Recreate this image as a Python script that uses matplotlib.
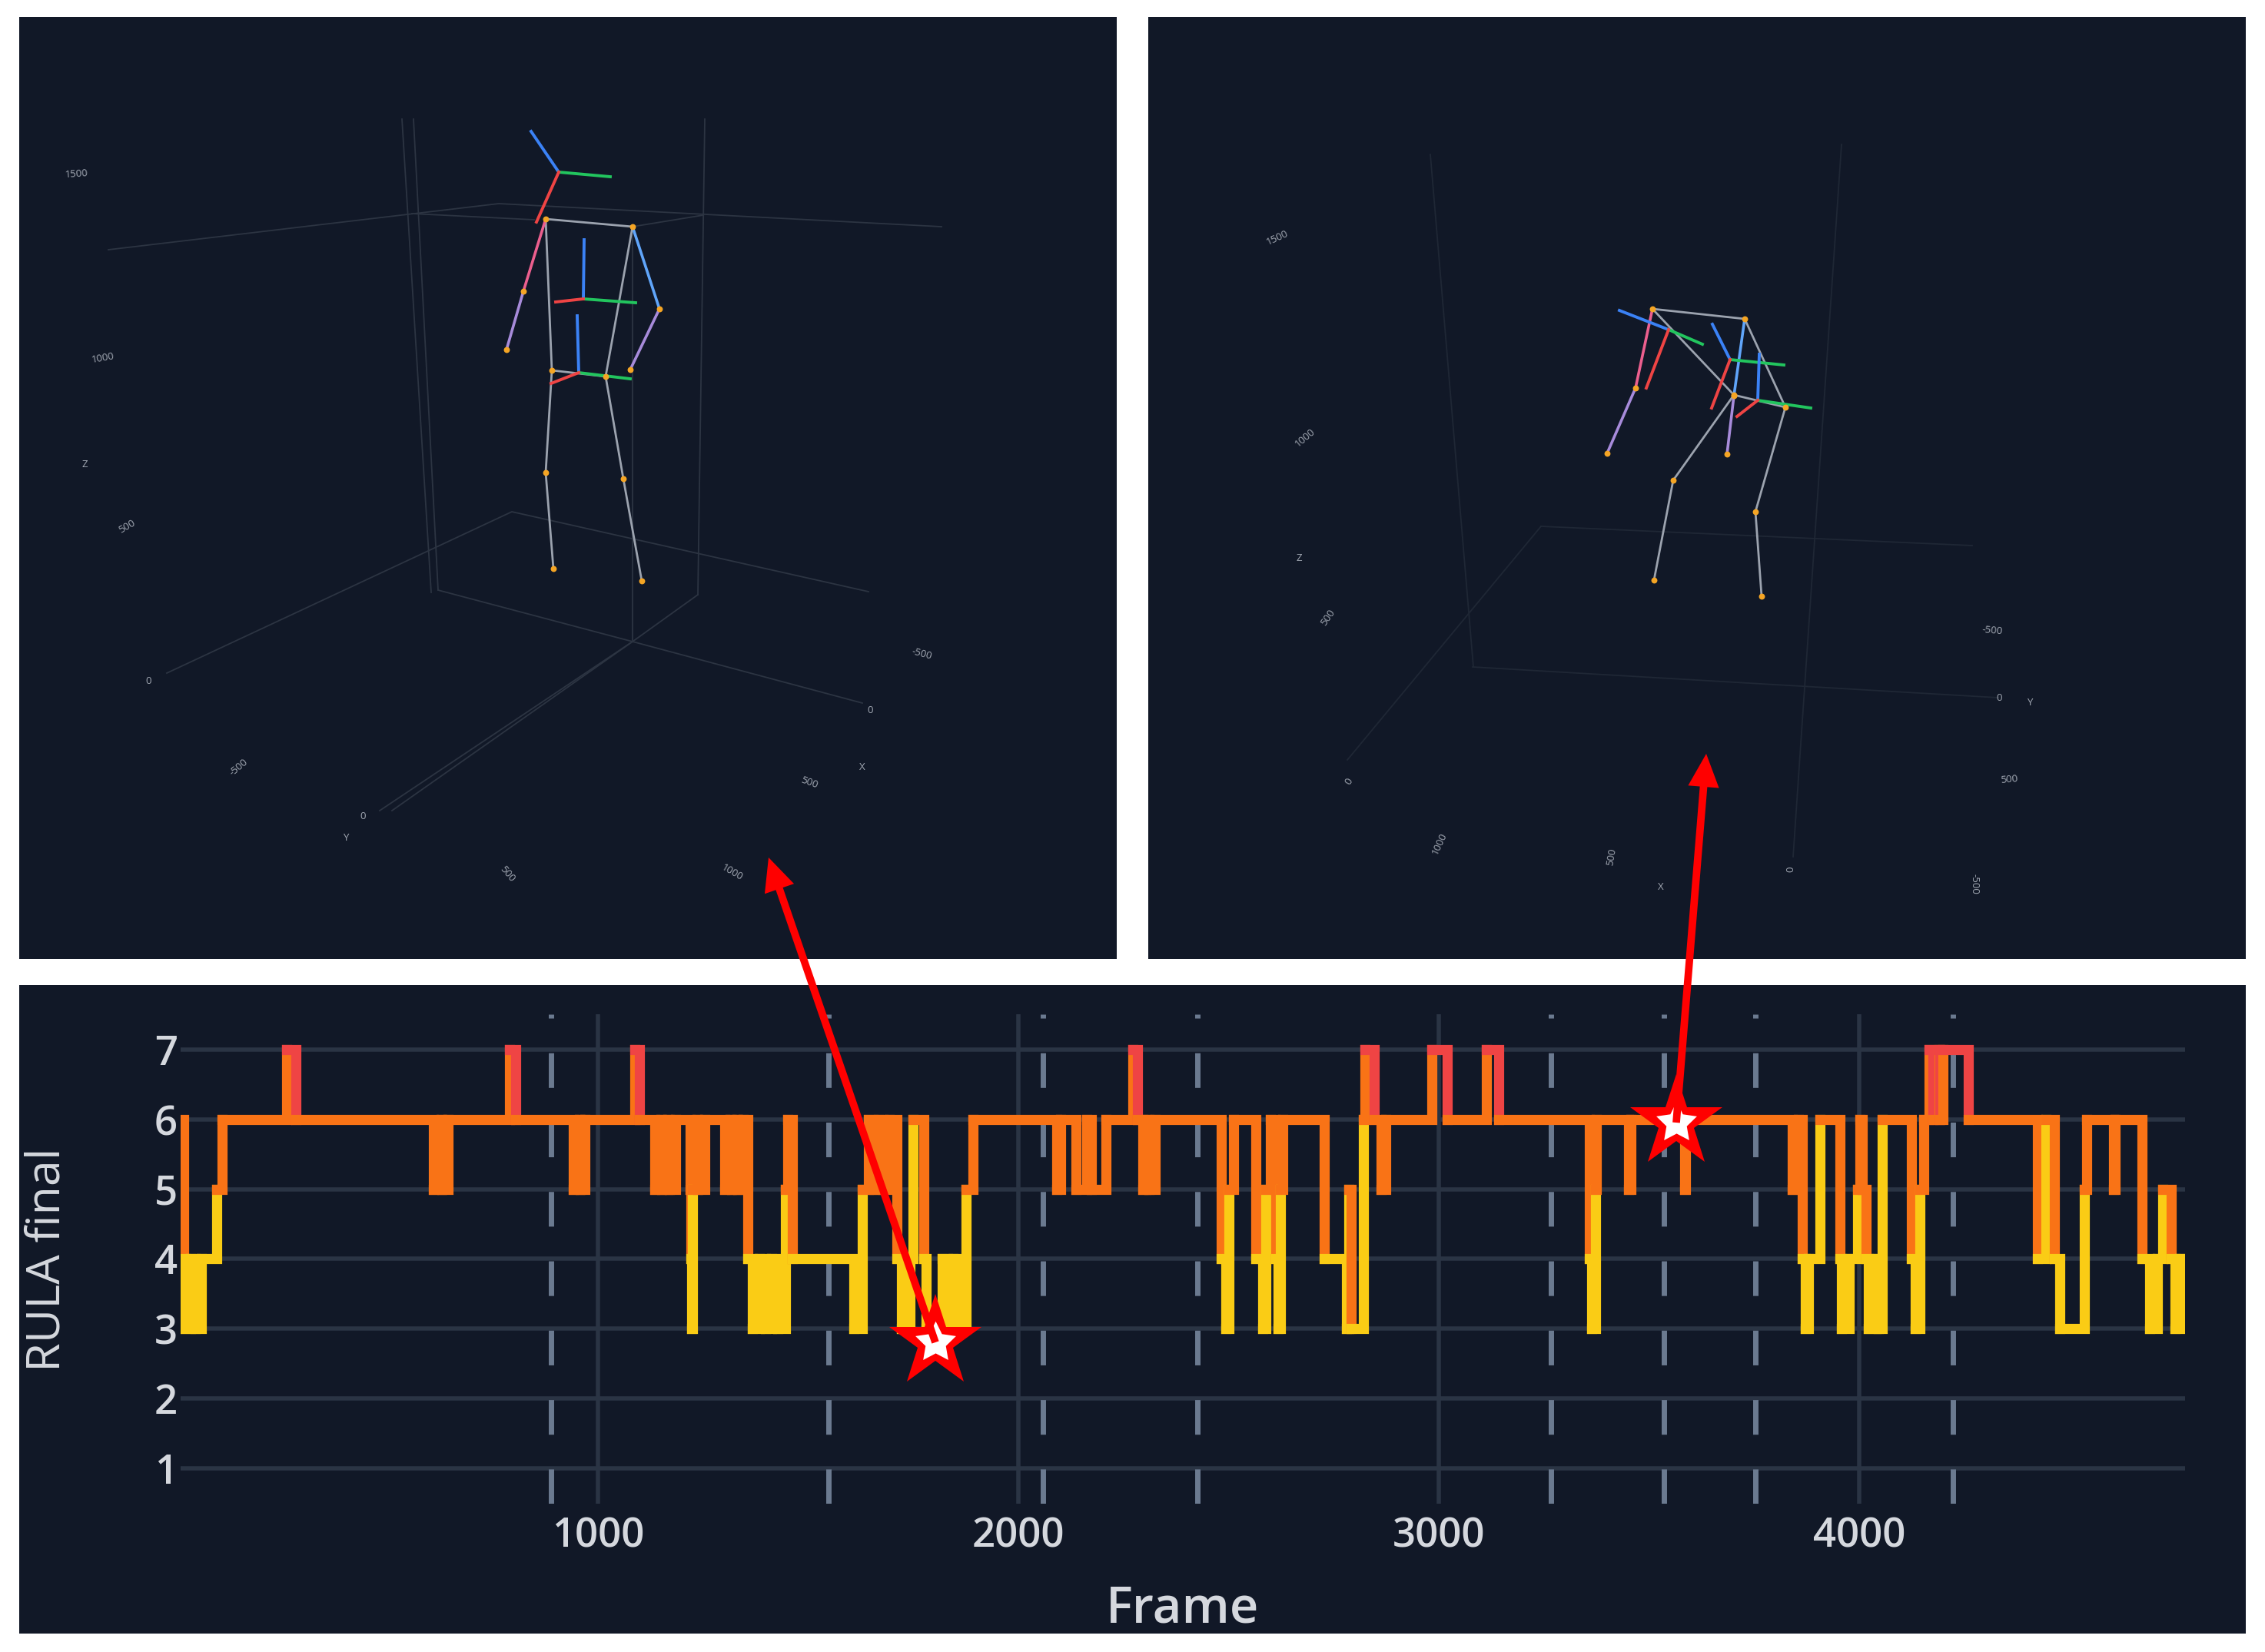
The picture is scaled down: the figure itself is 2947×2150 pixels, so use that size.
"""RULA final score over frames, with the two 3D poses it points at."""
import matplotlib
matplotlib.use('Agg')
import matplotlib.pyplot as plt
from matplotlib.patches import Rectangle
from matplotlib.path import Path

plt.rcParams['font.family'] = ['Open Sans', 'DejaVu Sans']

W, H = 2947, 2150
BG, GRID = '#111827', '#2a3444'
YELLOW, ORANGE, RED = '#facc15', '#f97316', '#ef4444'
BONE, JOINT = '#9ca3af', '#f5a524'
AX_B, AX_G, AX_R = '#3b82f6', '#22c55e', '#ef4444'
PINK, PURPLE, SKY = '#ec5f8e', '#a78bda', '#60a5fa'

# frames where the score changes, and the score from that frame on
FRAMES = [7, 15, 18, 30, 42, 56, 93, 106, 260, 282, 609, 627, 629, 644, 790, 804,
          942, 955, 958, 968, 1087, 1099, 1135, 1150, 1152, 1167, 1169, 1184,
          1219, 1221, 1222, 1225, 1236, 1238, 1253, 1301, 1315, 1317, 1330, 1332, 1345, 1356,
          1368, 1383, 1398, 1413, 1428, 1446, 1451, 1463, 1608, 1629, 1643, 1655, 1667, 1678,
          1693, 1710, 1721, 1742, 1750, 1774, 1780, 1818, 1832, 1845, 1859, 1876, 1892,
          2092, 2100, 2136, 2162, 2174, 2209, 2273, 2284, 2296, 2304, 2311, 2325,
          2483, 2494, 2500, 2512, 2564, 2582, 2588, 2599, 2611, 2613, 2617, 2623, 2628,
          2727, 2780, 2785, 2792, 2821, 2824, 2847, 2862, 2874, 2984, 3019, 3113, 3142,
          3358, 3363, 3372, 3375, 3451, 3457, 3585, 3586, 3841, 3855, 3865, 3872, 3880,
          3906, 3955, 3958, 3976, 3997, 4001, 4007, 4016, 4022, 4040, 4045, 4054,
          4125, 4133, 4145, 4154, 4166, 4176, 4190, 4192, 4200, 4259,
          4424, 4444, 4465, 4477, 4535, 4541, 4605, 4608, 4672, 4690, 4710, 4722,
          4742, 4751, 4763]
RULA = [6, 4, 3, 4, 3, 4, 5, 6, 7, 6, 5, 6, 5, 6, 7, 6,
        5, 6, 5, 6, 7, 6, 5, 6, 5, 6, 5, 6,
        5, 4, 3, 5, 6, 5, 6, 5, 6, 5, 6, 5, 6, 4,
        3, 4, 3, 4, 3, 5, 6, 4, 3, 5, 6, 5, 6, 5,
        6, 4, 3, 4, 6, 4, 3, 4, 3, 4, 3, 5, 6,
        5, 6, 5, 6, 5, 6, 7, 6, 5, 6, 5, 6,
        4, 3, 5, 6, 4, 3, 5, 6, 5, 4, 3, 5, 6,
        4, 3, 5, 3, 6, 7, 6, 5, 6, 7, 6, 7, 6,
        4, 3, 5, 6, 5, 6, 5, 6, 5, 6, 4, 3, 4,
        6, 4, 3, 4, 5, 6, 5, 4, 3, 4, 3, 6,
        4, 3, 5, 6, 7, 6, 7, 6, 7, 6,
        4, 6, 4, 3, 5, 6, 5, 6, 4, 3, 4, 5,
        4, 3, 4]
FRAME_END = 4775
DASHED_FRAMES = [888, 1548, 2058, 2426, 3267, 3535, 3753, 4222]
X_TICKS = [1000, 2000, 3000, 4000]
Y_TICKS = [1, 2, 3, 4, 5, 6, 7]

# 3D poses as they land on the image, in image pixels
POSE_L = {'sl': (710, 285), 'sr': (823, 295), 'el': (681, 379), 'wl': (659, 455),
          'er': (858, 402), 'wr': (820, 481), 'hl': (718, 482), 'hr': (788, 490),
          'kl': (710, 615), 'kr': (811, 623), 'al': (720, 740), 'ar': (835, 756)}
AXES_L = [((727, 224), (691, 171), (794, 230), (698, 289)),
          ((759, 389), (760, 312), (827, 394), (723, 393)),
          ((753, 485), (751, 411), (820, 493), (717, 499))]
POSE_R = {'sl': (2150, 402), 'sr': (2270, 415), 'el': (2128, 505), 'wl': (2091, 590),
          'er': (2256, 515), 'wr': (2247, 591), 'hl': (2256, 514), 'hr': (2323, 530),
          'kl': (2177, 625), 'kr': (2284, 666), 'al': (2152, 755), 'ar': (2292, 776)}
AXES_R = [((2171, 429), (2107, 404), (2215, 448), (2142, 505)),
          ((2251, 468), (2228, 422), (2321, 475), (2227, 531)),
          ((2287, 521), (2289, 461), (2356, 531), (2260, 542))]
BONES = [('sl', 'sr'), ('sl', 'hl'), ('sr', 'hr'), ('hl', 'hr'),
         ('hl', 'kl'), ('kl', 'al'), ('hr', 'kr'), ('kr', 'ar')]
ARMS = [('sl', 'el', PINK), ('el', 'wl', PURPLE), ('sr', 'er', SKY), ('er', 'wr', PURPLE)]

BOX_L = [[(141, 325), (649, 265), (1225, 295)], [(536, 278), (695, 286)], [(823, 295), (915, 280)],
         [(523, 155), (561, 771)], [(538, 155), (570, 768)], [(917, 155), (908, 774)],
         [(823, 295), (823, 835)], [(570, 768), (823, 835), (1122, 915)],
         [(908, 774), (823, 835), (510, 1055)], [(494, 1055), (823, 835)],
         [(217, 876), (666, 666), (1130, 770)]]
BOX_R = [[(2005, 685), (2566, 710)], [(1916, 868), (2600, 908)], [(2005, 685), (1753, 989)],
         [(1861, 201), (1917, 868)], [(2396, 188), (2333, 1115)]]

LABELS_L = [('1500', 100, 226, 4), ('1000', 134, 466, 10), ('Z', 110, 604, 0), ('500', 165, 685, 30),
            ('0', 193, 887, 0), ('-500', 311, 999, 40), ('0', 472, 1063, 0), ('Y', 450, 1090, 0),
            ('500', 660, 1137, -50), ('1000', 953, 1135, -30), ('X', 1122, 998, 0),
            ('500', 1053, 1019, -20), ('0', 1132, 925, 0), ('-500', 1199, 851, -15)]
LABELS_R = [('1500', 1662, 309, 25), ('1000', 1698, 570, 40), ('Z', 1690, 727, 0), ('500', 1728, 804, 55),
            ('0', 1755, 1017, 60), ('1000', 1873, 1098, 65), ('500', 2097, 1115, 80), ('X', 2161, 1154, 0),
            ('0', 2330, 1131, 90), ('-500', 2569, 1150, -90), ('-500', 2592, 821, -5),
            ('0', 2601, 908, 0), ('Y', 2641, 915, 0), ('500', 2614, 1015, 5)]

ARROW_FROM = [(1217, 1747), (2181, 1461)]
ARROW_TO = [(1000, 1116), (2220, 981)]
INNER_STAR = Path.unit_regular_star(5, innerCircle=0.5)


def px_axes(z):
    ax = fig.add_axes([0, 0, 1, 1], zorder=z)
    ax.set_xlim(0, W); ax.set_ylim(H, 0)
    ax.axis('off')
    ax.patch.set_alpha(0)
    return ax


def draw_pose(ax, pose, axes3, box, labels, box_col):
    for pts in box:
        ax.plot([p[0] for p in pts], [p[1] for p in pts], color=box_col, lw=1.3, zorder=1)
    for t, x, y, rot in labels:
        ax.text(x, y, t, color='#a2a8b3', fontsize=9.5, rotation=rot, ha='center', va='center')
    for a, b in BONES:
        ax.plot(*zip(pose[a], pose[b]), color=BONE, lw=2.0, zorder=3)
    for a, b, c in ARMS:
        ax.plot(*zip(pose[a], pose[b]), color=c, lw=2.6, zorder=4)
    for o, blue, green, red in axes3:
        ax.plot(*zip(o, blue), color=AX_B, lw=2.8, zorder=4)
        ax.plot(*zip(o, green), color=AX_G, lw=2.8, zorder=4)
        ax.plot(*zip(o, red), color=AX_R, lw=2.8, zorder=4)
    xs, ys = zip(*pose.values())
    ax.scatter(xs, ys, s=32, color=JOINT, linewidths=0, zorder=5)


def level_colour(v):
    return YELLOW if v <= 4 else (ORANGE if v <= 6 else RED)


fig = plt.figure(figsize=(W / 100, H / 100), dpi=100, facecolor='white')

back = px_axes(0)
for x0, y0, x1, y1 in [(25, 22, 1453, 1248), (1494, 22, 2922, 1248), (25, 1282, 2922, 2126)]:
    back.add_patch(Rectangle((x0, y0), x1 - x0, y1 - y0, fc=BG, ec='none', zorder=0))
draw_pose(back, POSE_L, AXES_L, BOX_L, LABELS_L, '#2c3442')
draw_pose(back, POSE_R, AXES_R, BOX_R, LABELS_R, '#1f2735')

# the score trace: every step takes the colour of the score it leaves
ax = fig.add_axes([235 / W, 1 - 1957 / H, (2843 - 235) / W, (1957 - 1320) / H], zorder=1)
ax.patch.set_alpha(0)
ax.set_xlim(7, FRAME_END)
ax.set_ylim(0.49, 7.51)
for s in ax.spines.values():
    s.set_visible(False)
ax.set_xticks(X_TICKS)
ax.set_yticks(Y_TICKS)
ax.tick_params(length=0, labelsize=38, labelcolor='#d5d8de', pad=3)
ax.tick_params(axis='x', pad=12)
for lab in ax.get_xticklabels() + ax.get_yticklabels():
    lab.set_fontweight(600)
ax.grid(True, color=GRID, lw=4)
ax.set_axisbelow(True)
for f in DASHED_FRAMES:
    ax.plot([f, f], [0.49, 7.51], color='#6b7a90', lw=5, dashes=(6.5, 6.5),
            dash_capstyle='butt', zorder=1.5)
for i, (f, v) in enumerate(zip(FRAMES, RULA)):
    nf = FRAMES[i + 1] if i + 1 < len(FRAMES) else FRAME_END
    nv = RULA[i + 1] if i + 1 < len(RULA) else v
    ax.plot([f, nf, nf], [v, v, nv], color=level_colour(v), lw=9.5,
            solid_capstyle='projecting', solid_joinstyle='miter', zorder=2)

top = px_axes(2)
top.text(1539, 2111, 'Frame', color='#d5d8de', fontsize=47, fontweight=600, ha='center', va='baseline')
top.text(62, 1639, 'RULA final', color='#d5d8de', fontsize=44, rotation=90, ha='center', va='center')
for a, b in zip(ARROW_FROM, ARROW_TO):
    top.annotate('', xy=b, xytext=a,
                 arrowprops=dict(arrowstyle='simple,head_length=0.31,head_width=0.29,tail_width=0.07',
                                 color='#ff0000', lw=0, mutation_scale=100, shrinkA=0, shrinkB=0))
for x, y in ARROW_FROM:
    top.plot(x, y, marker='*', ms=91, color='#ff0000', mew=0)
    top.plot(x, y, marker=INNER_STAR, ms=40, color='white', mew=0)

fig.savefig('out.png', dpi=100)
